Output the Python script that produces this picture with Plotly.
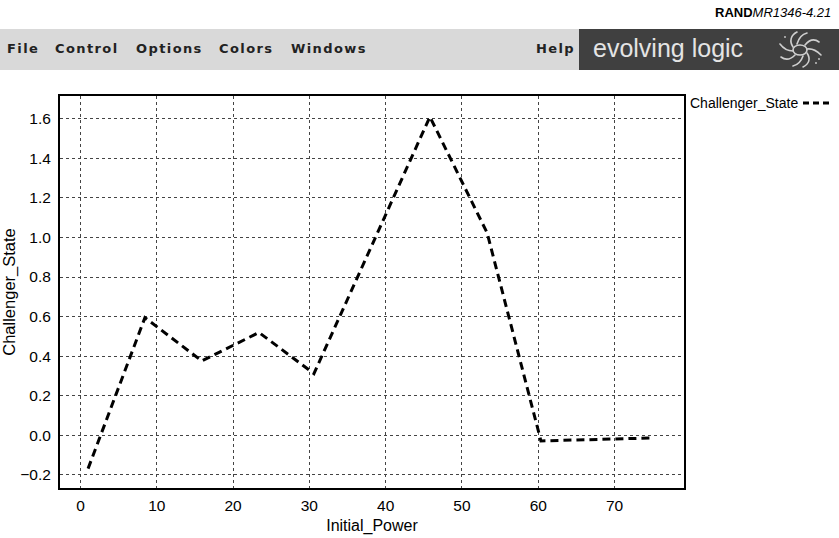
import base64
import plotly.graph_objects as go

# ---- data ----
initial_power = [1.0, 8.45, 15.9, 23.4, 30.6, 45.8, 53.3, 60.35, 75.2]
challenger_state = [-0.168, 0.595, 0.376, 0.52, 0.312, 1.61, 1.023, -0.028, -0.013]
x_ticks = [0, 10, 20, 30, 40, 50, 60, 70]
y_ticks = [-0.2, 0.0, 0.2, 0.4, 0.6, 0.8, 1.0, 1.2, 1.4, 1.6]
menu_items = ["File", "Control", "Options", "Colors", "Windows"]
menu_x_px = [5, 53, 134, 217, 289]

W, H = 839, 538
L, R, T, B = 60, 684, 96, 488
PW, PH = R - L, B - T


def px(xp):
    return (xp - L) / PW


def py(yp):
    return (B - yp) / PH


FONT = "Liberation Sans, Arial, sans-serif"

fig = go.Figure()
fig.add_trace(go.Scatter(
    x=initial_power, y=challenger_state, mode="lines",
    line=dict(color="black", width=3, dash="8px,5px"),
    name="Challenger_State", showlegend=False,
))

fig.update_layout(
    width=W, height=H,
    margin=dict(l=L, r=W - R, t=T, b=H - B, autoexpand=False),
    paper_bgcolor="white", plot_bgcolor="white",
    font=dict(family=FONT, size=15.5, color="black"),
    xaxis=dict(
        range=[-2.68, 79.1], tickvals=x_ticks, ticktext=[str(v) for v in x_ticks],
        showgrid=True, gridcolor="#444", griddash="3px,3px", gridwidth=1,
        showline=True, linecolor="black", linewidth=2, mirror=True,
        zeroline=False, ticks="", ticklabelstandoff=2, automargin=False,
        title=dict(text="Initial_Power", font=dict(size=16), standoff=7),
    ),
    yaxis=dict(
        range=[-0.266, 1.715], tickvals=y_ticks, tickformat=".1f",
        showgrid=True, gridcolor="#444", griddash="3px,3px", gridwidth=1,
        showline=True, linecolor="black", linewidth=2, mirror=True,
        zeroline=False, ticks="", ticklabelstandoff=4, automargin=False,
        title=dict(text="Challenger_State", font=dict(size=16.5), standoff=2),
    ),
)

shapes = []
annotations = []

# menu bar
shapes.append(dict(type="rect", xref="paper", yref="paper",
                   x0=px(0), x1=px(579), y0=py(70), y1=py(29),
                   fillcolor="#d9d9d9", line=dict(width=0), layer="below"))
shapes.append(dict(type="rect", xref="paper", yref="paper",
                   x0=px(579), x1=px(839), y0=py(70), y1=py(29),
                   fillcolor="#404040", line=dict(width=0), layer="below"))
MENU_FONT = dict(family="DejaVu Sans", size=13, color="#222")
for name, xp in zip(menu_items, menu_x_px):
    annotations.append(dict(text="<b><span style='letter-spacing:1.4px'>" + name + "</span></b>",
                            xref="paper", yref="paper",
                            x=px(xp), y=py(49), xanchor="left", yanchor="middle",
                            showarrow=False, font=MENU_FONT))
annotations.append(dict(text="<b><span style='letter-spacing:1.4px'>Help</span></b>",
                        xref="paper", yref="paper",
                        x=px(534), y=py(49), xanchor="left", yanchor="middle",
                        showarrow=False, font=MENU_FONT))
annotations.append(dict(text="evolving logic", xref="paper", yref="paper",
                        x=px(591), y=py(48), xanchor="left", yanchor="middle",
                        showarrow=False,
                        font=dict(family=FONT, size=25, color="#e4e4e4")))

# RAND label
annotations.append(dict(text="<b>RAND</b><i>MR1346-4.21</i>", xref="paper", yref="paper",
                        x=px(833), y=py(12), xanchor="right", yanchor="middle",
                        showarrow=False, font=dict(family=FONT, size=13, color="black")))

# legend (text then line sample)
annotations.append(dict(text="Challenger_State", xref="paper", yref="paper",
                        x=px(688), y=py(103), xanchor="left", yanchor="middle",
                        showarrow=False, font=dict(family=FONT, size=14, color="black")))
shapes.append(dict(type="line", xref="paper", yref="paper",
                   x0=px(803), x1=px(833), y0=py(103), y1=py(103),
                   line=dict(color="black", width=3, dash="6px,4px")))

# logo
svg = """<svg xmlns='http://www.w3.org/2000/svg' width='46' height='40' viewBox='0 0 46 40'>
<g fill='none' stroke='#cfcfcf' stroke-width='1.6' stroke-linecap='round'>
<ellipse cx='23' cy='21' rx='7' ry='5'/>
<path d='M16 18 C12 12, 14 6, 20 3'/>
<path d='M30 24 C34 30, 32 35, 26 38'/>
<path d='M28 16 C33 10, 38 10, 42 13'/>
<path d='M18 26 C13 31, 8 31, 4 28'/>
<path d='M20 15 C22 8, 26 5, 30 4'/>
<path d='M26 27 C24 33, 20 36, 16 37'/>
<path d='M30 20 C36 19, 40 22, 44 26'/>
<path d='M16 22 C10 22, 6 19, 3 15'/>
</g>
<ellipse cx='23' cy='21' rx='3' ry='2' fill='#404040'/>
<g fill='#cfcfcf'><circle cx='42' cy='30' r='0.9'/><circle cx='39' cy='34' r='0.9'/><circle cx='8' cy='8' r='0.9'/></g>
</svg>"""
src = "data:image/svg+xml;base64," + base64.b64encode(svg.encode()).decode()
fig.add_layout_image(dict(source=src, xref="paper", yref="paper",
                          x=px(777), y=py(29), sizex=46 / PW, sizey=40 / PH,
                          xanchor="left", yanchor="top", sizing="stretch", layer="above"))

fig.update_layout(shapes=shapes, annotations=annotations)
fig.write_html("out.html", config={"displayModeBar": False},
               post_script="document.body.style.margin='0';")
